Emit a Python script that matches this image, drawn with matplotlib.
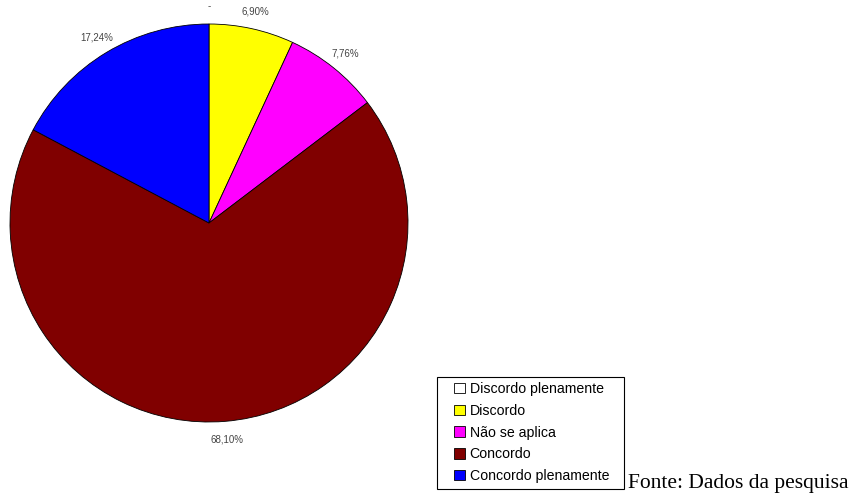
import matplotlib.pyplot as plt
from matplotlib.patches import Rectangle

# dados
categorias = ['Discordo plenamente', 'Discordo', 'Não se aplica', 'Concordo', 'Concordo plenamente']
valores = [0.0, 6.90, 7.76, 68.10, 17.24]
cores = ['#ffffff', '#ffff00', '#ff00ff', '#800000', '#0000ff']

plt.rcParams['font.family'] = ['Liberation Sans', 'DejaVu Sans']

fig = plt.figure(figsize=(8.57, 4.93), dpi=100)
ax = fig.add_axes([10 / 857, 71 / 493, 398 / 857, 398 / 493])


def rotulo(p):
    if p < 0.01:
        return '-'
    return ('%.2f%%' % p).replace('.', ',')


wedges, textos, pcts = ax.pie(valores, colors=cores, startangle=90, counterclock=False,
                              autopct=rotulo, pctdistance=1.09,
                              wedgeprops=dict(edgecolor='black', linewidth=0.6),
                              textprops=dict(fontsize=7, color='#444444'))
ax.set_xlim(-1, 1)
ax.set_ylim(-1, 1)

# moldura da legenda
fig.patches.append(Rectangle((437 / 857, 4 / 493), 187 / 857, 112 / 493,
                             transform=fig.transFigure, fill=False,
                             edgecolor='black', linewidth=0.8))

leg = fig.legend(wedges, categorias, loc='upper left', bbox_to_anchor=(454 / 857, 111 / 493),
                 fontsize=10.2, frameon=False,
                 handlelength=0.75, handleheight=0.75, handletextpad=0.35,
                 labelspacing=0.55, borderpad=0, borderaxespad=0)
for h in leg.legend_handles:
    h.set_edgecolor('black')
    h.set_linewidth(0.6)

fig.text(628 / 857, 5 / 493, 'Fonte: Dados da pesquisa', fontsize=15.5,
         family='Liberation Serif', ha='left', va='baseline')

fig.savefig('out.png', dpi=100)
